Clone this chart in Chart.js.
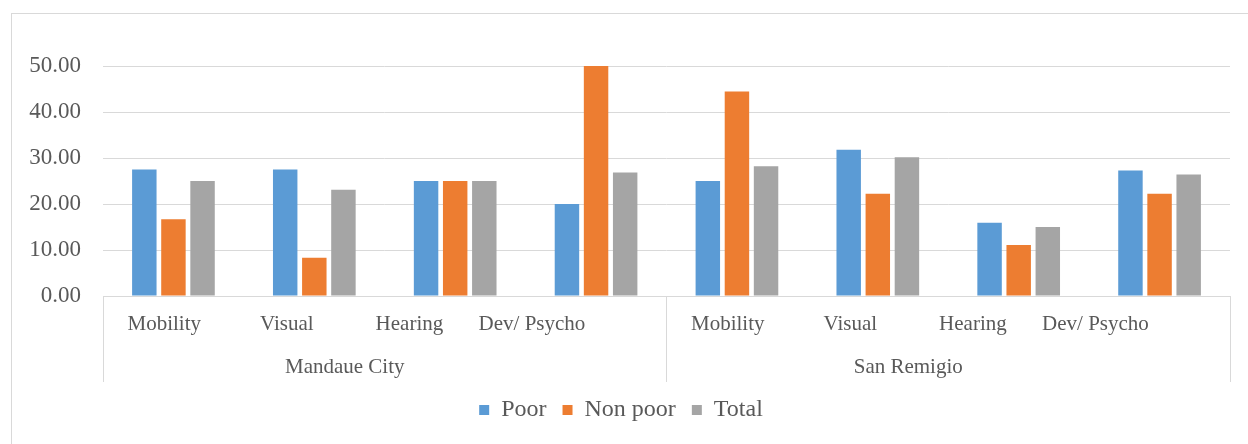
<!DOCTYPE html>
<html>
<head>
<meta charset="utf-8">
<script src="https://cdn.jsdelivr.net/npm/chart.js@4.4.0/dist/chart.umd.min.js"></script>
<style>
    body { margin: 0; background: #fff; }
    #wrap {
        position: absolute;
        left: 11px;
        top: 13px;
        width: 1237px;
        height: 431px;
        border-left: 1px solid #d9d9d9;
        border-top: 1px solid #d9d9d9;
    }
</style>
</head>
<body>
<div id="wrap"><canvas id="myChart"></canvas></div>
<script>
    // categories
    let kinds = ['Mobility', 'Visual', 'Hearing', 'Dev/ Psycho', 'Mobility', 'Visual', 'Hearing', 'Dev/ Psycho'];
    let places = ['Mandaue City', 'San Remigio'];

    // series values (percent)
    let poor = [27.50, 27.50, 25.00, 20.00, 25.00, 31.82, 15.91, 27.27];
    let nonPoor = [16.67, 8.33, 25.00, 50.00, 44.44, 22.22, 11.11, 22.22];
    let total = [25.00, 23.08, 25.00, 26.83, 28.21, 30.16, 15.00, 26.42];

    // y tick labels
    let yTicks = [0, 10, 20, 30, 40, 50];

    const textColor = '#595959';
    const lineColor = '#d9d9d9';
    const font = "'Liberation Serif', 'Times New Roman', serif";
    const perGroup = kinds.length / places.length;

    // the sub-category labels sit a bit tighter than the slots, like in the original
    const kindLabels = {
        id: 'kindLabels',
        afterDraw(chart) {
            let x = chart.scales.x;
            let c = chart.ctx;
            let step = x.getPixelForValue(1) - x.getPixelForValue(0);
            c.save();
            c.font = '21px ' + font;
            c.fillStyle = textColor;
            c.textAlign = 'center';
            c.textBaseline = 'middle';
            for (let i = 0; i < kinds.length; i++) {
                let k = i % perGroup;
                let groupStart = x.getPixelForValue(i - k) - step / 2;
                c.fillText(kinds[i], groupStart + (k + 0.5) * step * 0.87, x.top + 28);
            }
            c.restore();
        }
    };

    let ctx = document.getElementById('myChart');
    let myChart = new Chart(ctx, {
        type: 'bar',
        data: {
            labels: kinds,
            datasets: [
                { label: 'Poor', data: poor, backgroundColor: '#5b9bd5' },
                { label: 'Non poor', data: nonPoor, backgroundColor: '#ed7d31' },
                { label: 'Total', data: total, backgroundColor: '#a5a5a5' }
            ]
        },
        options: {
            responsive: true,
            maintainAspectRatio: false,
            animation: false,
            datasets: {
                bar: { categoryPercentage: 0.62, barPercentage: 0.84 }
            },
            layout: {
                padding: { left: 0, right: 19, top: 52, bottom: 13 }
            },
            plugins: {
                tooltip: { enabled: false },
                legend: {
                    position: 'bottom',
                    labels: {
                        color: textColor,
                        boxWidth: 10,
                        boxHeight: 10,
                        padding: 16,
                        font: { family: font, size: 24 }
                    }
                }
            },
            scales: {
                x: {
                    position: 'bottom',
                    afterFit: function(axis) { axis.height = 57; },
                    grid: {
                        offset: true,
                        drawOnChartArea: false,
                        drawTicks: true,
                        tickLength: 86,
                        color: function(c) {
                            if (c.type !== 'tick') return lineColor;
                            return c.index % perGroup === 0 ? lineColor : 'rgba(0,0,0,0)';
                        }
                    },
                    border: { display: true, color: lineColor },
                    ticks: { display: false }
                },
                x2: {
                    type: 'category',
                    position: 'bottom',
                    labels: places,
                    offset: true,
                    afterFit: function(axis) { axis.height = 29; },
                    grid: { display: false, drawTicks: false },
                    border: { display: false },
                    ticks: {
                        color: textColor,
                        padding: 2,
                        labelOffset: -40,
                        font: { family: font, size: 21 }
                    }
                },
                y: {
                    min: 0,
                    max: 50,
                    afterBuildTicks: function(axis) {
                        axis.ticks = yTicks.map(v => ({ value: v }));
                    },
                    afterFit: function(axis) { axis.width = 91; },
                    grid: { color: lineColor, drawTicks: false },
                    border: { display: false },
                    ticks: {
                        color: textColor,
                        padding: 22,
                        font: { family: font, size: 23 },
                        callback: function(value) {
                            return Number(value).toFixed(2);
                        }
                    }
                }
            }
        },
        plugins: [kindLabels]
    });
</script>
</body>
</html>
